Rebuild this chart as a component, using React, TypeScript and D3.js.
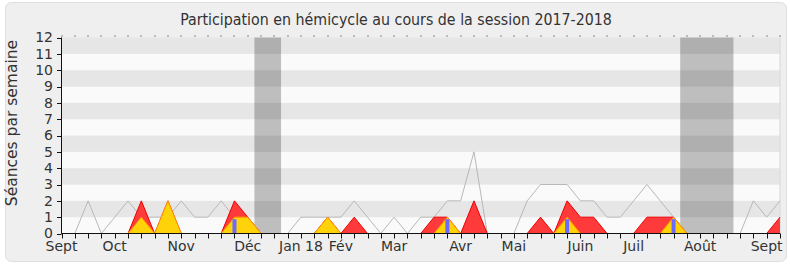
import React from 'react';
import * as d3 from 'd3';

const seances = [0,0,2,0,1,2,1,1,1,2,1,1,2,1,1,0,0,0,1,1,1,1,2,1,0,1,0,1,1,2,2,5,0,0,0,2,3,3,3,2,2,1,1,2,3,2,1,0,0,0,0,0,2,1,2];
const presences = [0,0,0,0,0,0,2,0,2,0,0,0,0,2,1,0,0,0,0,0,1,0,1,0,0,0,0,0,1,1,0,2,0,0,0,0,1,0,2,1,1,0,0,0,1,1,1,0,0,0,0,0,0,0,1];
const interventions = [0,0,0,0,0,0,1,0,2,0,0,0,0,1,1,0,0,0,0,0,1,0,0,0,0,0,0,0,0,1,0,0,0,0,0,0,0,0,1,0,0,0,0,0,0,0,1,0,0,0,0,0,0,0,0];
const questions = [0,0,0,0,0,0,0,0,0,0,0,0,0,1,0,0,0,0,0,0,0,0,0,0,0,0,0,0,0,1,0,0,0,0,0,0,0,0,1,0,0,0,0,0,0,0,1,0,0,0,0,0,0,0,0];
const monthLabels = ['Sept','Oct','Nov','Déc','Jan 18','Fév','Mar','Avr','Mai','Juin','Juil','Août','Sept'];
const monthWeeks = [0,4,9,14,18,21,25,30,34,39,43,48,53];
const vacationStarts = [14.5, 46.5];
const vacationEnds = [16.5, 50.5];
const yTicks = [0,1,2,3,4,5,6,7,8,9,10,11,12];
const title = 'Participation en hémicycle au cours de la session 2017-2018';
const yTitle = 'Séances par semaine';

const W = 790, H = 267;
const FONT = '"DejaVu Sans", Verdana, sans-serif';
const FONT_COND = '"DejaVu Sans Condensed", "DejaVu Sans", sans-serif';

export default function App() {
  const n = seances.length;
  const x = d3.scaleLinear().domain([0, n - 1]).range([61.5, 780]);
  const y = d3.scaleLinear().domain([0, 12]).range([233.5, 37.5]);
  const weeks = d3.range(n);

  const area = d3.area<number>().x((_, i) => x(i)).y0(y(0)).y1(d => y(d));
  const line = d3.line<number>().x((_, i) => x(i)).y(d => y(d));
  const barW = 4;

  return (
    <svg width={W} height={H} style={{ position: 'absolute', left: 0, top: 0, fontFamily: FONT }}>
      <rect x={0} y={0} width={W} height={H} fill="#ffffff" />
      <rect x={5.5} y={2.5} width={781} height={259} rx={6} fill="#efefef" stroke="#dedede" />
      <text x={396} y={25} textAnchor="middle" fontSize={15.8} fill="#333"
        style={{ fontFamily: FONT_COND, fontStretch: 'condensed' }}>{title}</text>

      {/* bands */}
      {yTicks.slice(0, -1).map(k => (
        <rect key={k} x={x(0)} y={y(k + 1)} width={x(n - 1) - x(0)} height={y(k) - y(k + 1)}
          fill={k % 2 === 1 ? '#e6e6e6' : '#fafafa'} />
      ))}
      <line x1={x(n - 1)} x2={x(n - 1)} y1={y(12)} y2={y(0)} stroke="#d8d8d8" />

      {/* vacations */}
      {vacationStarts.map((s, i) => (
        <rect key={i} x={x(s)} y={y(12)} width={x(vacationEnds[i]) - x(s)} height={y(0) - y(12)}
          fill="rgba(0,0,0,0.24)" />
      ))}

      {/* top dots */}
      {weeks.map(i => (
        <rect key={i} x={Math.round(x(i)) - 0.5} y={35.5} width={1} height={1} fill="#222" />
      ))}

      {/* series */}
      <path d={line(seances) || ''} fill="none" stroke="#b8b8b8" strokeWidth={1} />
      <path d={area(presences) || ''} fill="#ff3a3a" />
      <path d={line(presences) || ''} fill="none" stroke="#ee0000" strokeWidth={1} />
      <path d={area(interventions) || ''} fill="#ffd20a" />
      <path d={line(interventions) || ''} fill="none" stroke="#ff9a00" strokeWidth={1} />
      {questions.map((q, i) => q > 0 ? (
        <rect key={i} x={x(i) - barW / 2} y={y(q) + 2} width={barW} height={y(0) - y(q) - 2} fill="#6b6bff" />
      ) : null)}

      {/* y axis */}
      <line x1={61.5} x2={61.5} y1={y(12)} y2={y(0)} stroke="#111" />
      {yTicks.map(t => (
        <g key={t}>
          <line x1={57} x2={61.5} y1={Math.round(y(t)) + 0.5} y2={Math.round(y(t)) + 0.5} stroke="#111" />
          <text x={53} y={y(t)} dy="0.34em" textAnchor="end" fontSize={14} fill="#333">{t}</text>
        </g>
      ))}
      <text transform={`translate(17,123) rotate(-90)`} textAnchor="middle" fontSize={15.5} fill="#333">{yTitle}</text>

      {/* x axis */}
      <line x1={x(0)} x2={x(n - 1)} y1={233.5} y2={233.5} stroke="#111" />
      {weeks.map(i => (
        <line key={i} x1={Math.round(x(i)) + 0.5} x2={Math.round(x(i)) + 0.5} y1={233.5} y2={238.5} stroke="#111" />
      ))}
      {monthLabels.map((m, i) => (
        <text key={i} x={x(monthWeeks[i])} y={250.5} textAnchor="middle" fontSize={14} fill="#333">{m}</text>
      ))}
    </svg>
  );
}
